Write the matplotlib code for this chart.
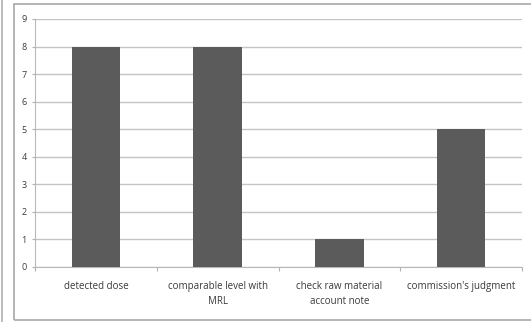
import matplotlib.pyplot as plt
from matplotlib.patches import Rectangle
from matplotlib.lines import Line2D

categories = ['detected dose', 'comparable level with\nMRL', 'check raw material\naccount note',
              "commission's judgment"]
counts = [8, 8, 1, 5]

fig = plt.figure(figsize=(5.31, 3.22), dpi=100)
ax = fig.add_axes([35 / 531, 55 / 322, 487 / 531, 248 / 322])

x = range(len(categories))
ax.bar(x, counts, width=0.4, color='#5b5b5b', zorder=3)

ax.set_xlim(-0.5, len(categories) - 0.5)
ax.set_ylim(0, 9)
ax.set_yticks(range(10))
ax.yaxis.grid(True, color='#c4c4c4', linewidth=1.0)
ax.set_axisbelow(True)

# category boundaries get the x tick marks, labels sit in between
ax.set_xticks([i + 0.5 for i in range(-1, len(categories))], minor=False)
ax.set_xticklabels([])
ax.set_xticks(list(x), minor=True)
ax.set_xticklabels(categories, minor=True, fontsize=7, color='#3a3a3a', family='Open Sans',
                   linespacing=1.5)
ax.tick_params(axis='x', which='minor', length=0, pad=10)
ax.tick_params(axis='x', which='major', length=3, color='#b0b0b0', direction='out')
ax.tick_params(axis='y', length=2, color='#b0b0b0', labelsize=6.5, labelcolor='#3a3a3a', pad=4)
for lab in ax.get_yticklabels():
    lab.set_family('Open Sans')

for side in ['top', 'right']:
    ax.spines[side].set_visible(False)
ax.spines['left'].set_color('#b8b8b8')
ax.spines['bottom'].set_color('#b8b8b8')

# outer chart frame
fig.patches.append(Rectangle((14 / 531, 2 / 322), 1.1, 316 / 322, transform=fig.transFigure,
                             fill=False, edgecolor='#a8a8a8', linewidth=1.2))
fig.lines.append(Line2D([1.5 / 531, 1.5 / 531], [0, 1], transform=fig.transFigure,
                        color='#b0b0b0', linewidth=1.2))

fig.savefig('out.png', dpi=100)
